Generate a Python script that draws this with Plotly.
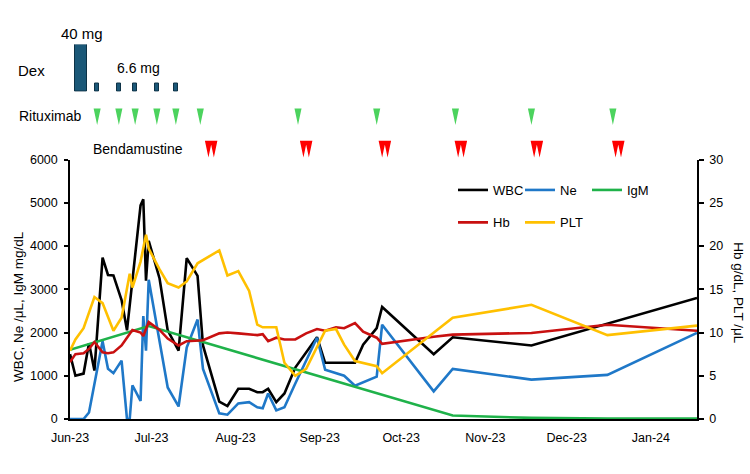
import pandas as pd
import plotly.graph_objects as go

# ---------------- data ----------------
wbc_dates = ["2023-06-01","2023-06-03","2023-06-06","2023-06-08","2023-06-10","2023-06-13","2023-06-15",
             "2023-06-17","2023-06-20","2023-06-22","2023-06-27","2023-06-28","2023-06-29","2023-06-30",
             "2023-07-04","2023-07-07","2023-07-11","2023-07-14","2023-07-18","2023-07-20","2023-07-26",
             "2023-07-29","2023-08-02","2023-08-06","2023-08-09","2023-08-11","2023-08-13","2023-08-16",
             "2023-08-19","2023-08-23","2023-08-31","2023-09-03","2023-09-14","2023-09-17","2023-09-22",
             "2023-09-24","2023-10-13","2023-10-20","2023-11-18","2023-12-16","2024-01-18"]
wbc = [1500,1000,1050,1750,1120,3730,3330,3320,2750,2050,4940,5080,3200,4120,3250,2050,1580,3720,3310,1700,
       400,300,700,700,620,620,700,390,590,1190,1890,1300,1300,1720,2100,2590,1500,1890,1700,2200,2800]

ne_dates = ["2023-06-01","2023-06-03","2023-06-06","2023-06-08","2023-06-13","2023-06-15","2023-06-17",
            "2023-06-20","2023-06-22","2023-06-23","2023-06-24","2023-06-27","2023-06-28","2023-06-29",
            "2023-06-30","2023-07-07","2023-07-11","2023-07-14","2023-07-18","2023-07-20","2023-07-26",
            "2023-07-29","2023-08-02","2023-08-06","2023-08-09","2023-08-11","2023-08-13","2023-08-16",
            "2023-08-19","2023-08-23","2023-08-31","2023-09-03","2023-09-07","2023-09-10","2023-09-14",
            "2023-09-22","2023-09-24","2023-10-13","2023-10-20","2023-11-18","2023-12-16","2024-01-18"]
ne = [0,0,0,150,1800,1160,1060,1350,0,0,780,420,2380,1580,3220,730,290,1650,2300,1160,130,100,360,390,
      270,250,590,200,270,820,1880,1140,1070,1000,770,980,2180,640,1160,910,1020,1990]

igm_dates = ["2023-06-01","2023-06-30","2023-10-20","2023-11-18","2023-12-16","2024-01-18"]
igm = [1600,2150,80,25,10,10]

hb_dates = ["2023-06-01","2023-06-03","2023-06-06","2023-06-08","2023-06-10","2023-06-13","2023-06-15",
            "2023-06-17","2023-06-20","2023-06-22","2023-06-24","2023-06-27","2023-06-28","2023-06-30",
            "2023-07-04","2023-07-07","2023-07-11","2023-07-14","2023-07-18","2023-07-20","2023-07-26",
            "2023-07-29","2023-08-02","2023-08-06","2023-08-09","2023-08-11","2023-08-13","2023-08-16",
            "2023-08-19","2023-08-23","2023-08-27","2023-08-31","2023-09-03","2023-09-07","2023-09-10",
            "2023-09-14","2023-09-17","2023-09-22","2023-09-24","2023-10-13","2023-10-20","2023-11-18",
            "2023-12-16","2024-01-18"]
hb = [6.6,7.5,7.6,8.1,8.9,7.7,7.6,7.7,8.5,9.4,10.3,10.0,9.6,11.2,10.3,9.3,8.5,9.0,9.05,9.1,9.9,10.0,9.9,
      9.8,9.7,9.8,9.0,9.4,9.2,9.2,9.9,10.4,10.2,10.6,10.5,11.1,10.1,9.4,8.7,9.5,9.75,9.95,10.9,10.2]

plt_dates = ["2023-06-01","2023-06-03","2023-06-06","2023-06-10","2023-06-13","2023-06-17","2023-06-20",
             "2023-06-23","2023-06-24","2023-06-27","2023-06-29","2023-06-30","2023-07-04","2023-07-07",
             "2023-07-11","2023-07-14","2023-07-18","2023-07-26","2023-07-29","2023-08-02","2023-08-06",
             "2023-08-09","2023-08-11","2023-08-16","2023-08-19","2023-08-23","2023-08-27","2023-09-03",
             "2023-09-07","2023-09-10","2023-09-14","2023-09-22","2023-09-24","2023-10-20","2023-11-18",
             "2023-12-16","2024-01-18"]
plt_vals = [7.9,9.2,10.5,14.1,13.4,10.2,11.7,16.8,15.2,18.2,21.3,19.7,17.3,15.7,15.2,15.9,18.0,19.5,16.6,
            17.1,14.8,10.9,10.6,10.6,6.5,5.0,5.8,10.2,10.4,8.6,6.7,6.1,5.3,11.7,13.2,9.7,10.8]

dex_dates = ["2023-06-05","2023-06-11","2023-06-19","2023-06-25","2023-07-03","2023-07-10"]
dex_doses = [40, 6.6, 6.6, 6.6, 6.6, 6.6]
ritux_dates = ["2023-06-11","2023-06-19","2023-06-25","2023-07-03","2023-07-10","2023-07-19",
               "2023-08-24","2023-09-22","2023-10-21","2023-11-18","2023-12-18"]
benda_dates = ["2023-07-22","2023-07-24","2023-08-26","2023-08-28","2023-09-24","2023-09-26",
               "2023-10-22","2023-10-24","2023-11-19","2023-11-21","2023-12-19","2023-12-21"]

# ---------------- layout helpers ----------------
W, H = 750, 474
ML, MR, MT, MB = 70, 53, 10, 55
PW, PH = W - ML - MR, H - MT - MB
def px_x(px):
    return (px - ML) / PW
def px_y(py):
    return (H - MB - py) / PH

FONT = "Liberation Sans, Arial, sans-serif"
DAY = pd.Timedelta(days=1)

def wedges(dates, half_days, top, bottom):
    xs, ys = [], []
    for d in pd.to_datetime(dates):
        xs += [d - half_days * DAY, d + half_days * DAY, d, None]
        ys += [top, top, bottom, None]
    return xs, ys

fig = go.Figure()

lw = 2.6
fig.add_trace(go.Scatter(x=wbc_dates, y=wbc, mode="lines", name="WBC",
                         line=dict(color="#000000", width=lw), legend="legend"))
fig.add_trace(go.Scatter(x=ne_dates, y=ne, mode="lines", name="Ne",
                         line=dict(color="#1F78C8", width=lw), legend="legend"))
fig.add_trace(go.Scatter(x=igm_dates, y=igm, mode="lines", name="IgM",
                         line=dict(color="#1FB24A", width=lw), legend="legend"))
fig.add_trace(go.Scatter(x=hb_dates, y=hb, mode="lines", name="Hb", yaxis="y2",
                         line=dict(color="#C81010", width=lw), legend="legend2"))
fig.add_trace(go.Scatter(x=plt_dates, y=plt_vals, mode="lines", name="PLT", yaxis="y2",
                         line=dict(color="#FFC000", width=lw), legend="legend2"))

# Dex bars
dex_widths = [4.4 * 86400000 if d > 10 else 1.5 * 86400000 for d in dex_doses]
fig.add_trace(go.Bar(x=dex_dates, y=dex_doses, width=dex_widths, yaxis="y4", showlegend=False,
                     marker=dict(color="#1B5878", line=dict(color="#0E3246", width=1)),
                     hoverinfo="skip"))

# Rituximab wedges
rx, ry = wedges(ritux_dates, 1.3, 103, 120)
fig.add_trace(go.Scatter(x=rx, y=ry, yaxis="y3", mode="lines", fill="toself",
                         fillcolor="#4CD35E", line=dict(width=0, color="#4CD35E"),
                         showlegend=False, hoverinfo="skip"))
# Bendamustine wedges
bx, by = wedges(benda_dates, 1.3, 136, 153)
fig.add_trace(go.Scatter(x=bx, y=by, yaxis="y3", mode="lines", fill="toself",
                         fillcolor="#FF0000", line=dict(width=0, color="#FF0000"),
                         showlegend=False, hoverinfo="skip"))

annots = [
    dict(text="40 mg", x=px_x(82), y=px_y(27), size=15),
    dict(text="Dex", x=px_x(31), y=px_y(64), size=15),
    dict(text="6.6 mg", x=px_x(138), y=px_y(62), size=14),
    dict(text="Rituximab", x=px_x(50), y=px_y(111), size=14),
    dict(text="Bendamustine", x=px_x(138), y=px_y(144), size=14),
]
annotations = [dict(text=a["text"], x=a["x"], y=a["y"], xref="paper", yref="paper",
                    showarrow=False, xanchor="center", yanchor="middle",
                    font=dict(size=a["size"], family=FONT, color="#000")) for a in annots]
annotations.append(dict(text="WBC, Ne /μL, IgM mg/dL", x=px_x(19), y=px_y(305), xref="paper",
                        yref="paper", showarrow=False, textangle=-90, xanchor="center",
                        yanchor="middle", font=dict(size=13.5, family=FONT, color="#000")))
annotations.append(dict(text="Hb g/dL, PLT /μL", x=px_x(739), y=px_y(291), xref="paper",
                        yref="paper", showarrow=False, textangle=90, xanchor="center",
                        yanchor="middle", font=dict(size=13.5, family=FONT, color="#000")))

main_top = px_y(155)
axis_common = dict(showgrid=False, zeroline=False, showline=True, linecolor="#000000",
                   linewidth=1.5, tickfont=dict(size=12.5, family=FONT, color="#000"))

fig.update_layout(
    width=W, height=H,
    margin=dict(l=ML, r=MR, t=MT, b=MB, pad=0),
    paper_bgcolor="white", plot_bgcolor="white",
    font=dict(family=FONT, color="#000"),
    bargap=0,
    xaxis=dict(type="date", range=["2023-06-01", "2024-01-18"], dtick="M1", tick0="2023-06-01",
               tickformat="%b-%y", ticks="", ticklabelstandoff=6, anchor="y", domain=[0, 1],
               **axis_common),
    yaxis=dict(domain=[0, main_top], range=[0, 6000], dtick=1000, ticks="outside", ticklen=4,
               tickcolor="#000", tickwidth=1.5, ticklabelstandoff=4, anchor="x", **axis_common),
    yaxis2=dict(overlaying="y", side="right", range=[0, 30], dtick=5, ticks="outside", ticklen=5,
                tickcolor="#000", tickwidth=1.5, ticklabelstandoff=3, anchor="x", **axis_common),
    yaxis3=dict(domain=[main_top, 1], range=[155, 10], visible=False, anchor="x", fixedrange=True),
    yaxis4=dict(domain=[px_y(86), px_y(38)], range=[0, 40], visible=False, anchor="x"),
    legend=dict(orientation="h", x=px_x(453), y=px_y(186), xanchor="left", yanchor="middle",
                bgcolor="rgba(0,0,0,0)", font=dict(size=13, family=FONT), itemwidth=30,
                entrywidth=22, entrywidthmode="pixels", traceorder="normal"),
    legend2=dict(orientation="h", x=px_x(453), y=px_y(219), xanchor="left", yanchor="middle",
                 bgcolor="rgba(0,0,0,0)", font=dict(size=13, family=FONT), itemwidth=30,
                 entrywidth=22, entrywidthmode="pixels", traceorder="normal"),
    annotations=annotations,
    showlegend=True,
)

fig.write_html("out.html")
